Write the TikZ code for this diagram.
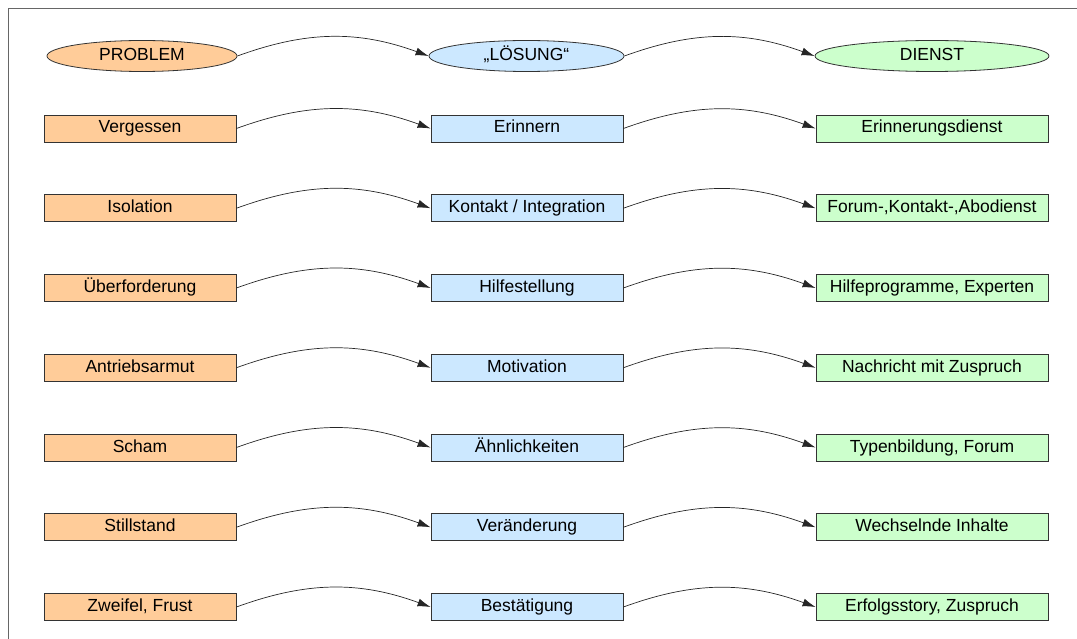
\documentclass[tikz,border=0pt]{standalone}
\usepackage{fontspec}
\setmainfont{Liberation Sans}
\usetikzlibrary{shapes.geometric,arrows.meta}

\definecolor{probfill}{HTML}{FFCC99}
\definecolor{loesfill}{HTML}{CCE8FF}
\definecolor{dienfill}{HTML}{CCFFCC}

\tikzset{
  kasten/.style={draw=black!80, line width=0.8pt, rectangle, minimum height=27pt, inner sep=0pt, text height=12pt, text depth=3pt, font=\fontsize{17.5}{19}\selectfont},
  kopf/.style={draw=black!80, line width=0.8pt, ellipse, minimum height=31pt, inner sep=0pt, text height=12pt, text depth=3pt, font=\fontsize{17.5}{19}\selectfont},
  pfeil/.style={-{Latex[length=13pt,width=8pt]}, line width=0.7pt, black!85, out=20, in=160},
}

\begin{document}
\begin{tikzpicture}[x=1pt, y=-1pt]
\useasboundingbox (0,0) rectangle (1077,639);
\draw[line width=1pt, black!60] (1077,9) -- (8,9) -- (8,645);

% Kopfzeile
\node[kopf, fill=probfill, minimum width=190pt] (p0) at (142,56) {PROBLEM};
\node[kopf, fill=loesfill, minimum width=195pt] (l0) at (526.5,56) {„LÖSUNG“};
\node[kopf, fill=dienfill, minimum width=234pt] (d0) at (932,56) {DIENST};
\draw[pfeil] (p0.east) to (l0.west);
\draw[pfeil] (l0.east) to (d0.west);

% Zeilen
\foreach \i/\prob/\loes/\dien in {
  1/Vergessen/Erinnern/Erinnerungsdienst,
  2/Isolation/{Kontakt / Integration}/{Forum-,Kontakt-,Abodienst},
  3/Überforderung/Hilfestellung/{Hilfeprogramme, Experten},
  4/Antriebsarmut/Motivation/Nachricht mit Zuspruch,
  5/Scham/Ähnlichkeiten/{Typenbildung, Forum},
  6/Stillstand/Veränderung/Wechselnde Inhalte,
  7/{Zweifel, Frust}/Bestätigung/{Erfolgsstory, Zuspruch}}
{
  \node[kasten, fill=probfill, minimum width=192pt] (p\i) at (140,48.75+79.75*\i) {\prob};
  \node[kasten, fill=loesfill, minimum width=192pt] (l\i) at (527,48.75+79.75*\i) {\loes};
  \node[kasten, fill=dienfill, minimum width=232pt] (d\i) at (932,48.75+79.75*\i) {\dien};
  \draw[pfeil] (p\i.east) to (l\i.west);
  \draw[pfeil] (l\i.east) to (d\i.west);
}
\end{tikzpicture}
\end{document}
